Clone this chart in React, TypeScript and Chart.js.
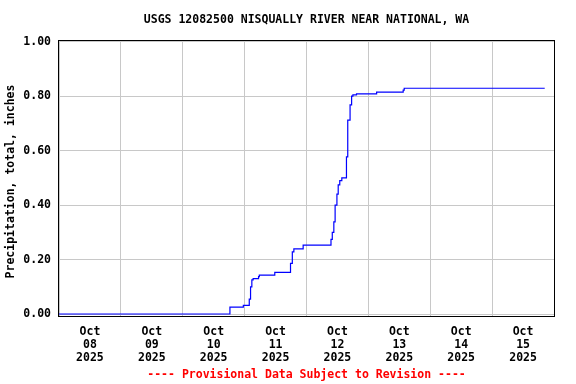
import React, { useEffect, useRef } from 'react';
import { Chart, registerables } from 'chart.js';

Chart.register(...registerables);

const TITLE = 'USGS 12082500 NISQUALLY RIVER NEAR NATIONAL, WA';
const Y_TITLE = 'Precipitation, total, inches';
const FOOTER = '---- Provisional Data Subject to Revision ----';
const MONTH = 'Oct';
const YEAR = '2025';
const DAY_LABELS = ['08', '09', '10', '11', '12', '13', '14', '15'];
const Y_TICKS = [0, 0.2, 0.4, 0.6, 0.8, 1.0];

// hours since Oct 08 2025 00:00
const HOURS = [
  0, 66.3, 71.5, 73.8, 74.3, 74.8, 75.3, 77.4, 77.7, 83.7, 89.8, 90.5, 91.1,
  94.7, 105.5, 106.0, 106.6, 107.1, 107.8, 108.3, 108.9, 109.7, 111.5, 112.0,
  112.9, 113.5, 114.0, 115.4, 123.2, 133.5, 133.9, 188.4,
];
// cumulative precipitation, inches
const PRECIP = [
  0, 0.025, 0.032, 0.055, 0.1, 0.125, 0.13, 0.137, 0.143, 0.153, 0.186, 0.228,
  0.239, 0.253, 0.274, 0.3, 0.338, 0.4, 0.44, 0.474, 0.49, 0.5, 0.577, 0.712,
  0.768, 0.8, 0.805, 0.808, 0.815, 0.822, 0.829, 0.829,
];

const FONT = '"DejaVu Sans Mono", monospace';

const decorPlugin = {
  id: 'decor',
  afterDraw(chart: any) {
    const { ctx, chartArea } = chart;
    const { left, right, top, bottom } = chartArea;
    ctx.save();
    ctx.strokeStyle = '#000';
    ctx.lineWidth = 1;
    ctx.strokeRect(Math.round(left) - 0.5, Math.round(top) + 0.5, Math.round(right - left) + 1, Math.round(bottom - top));
    const cx = (left + right) / 2;
    ctx.font = 'bold 11.5px ' + FONT;
    ctx.textAlign = 'center';
    ctx.textBaseline = 'middle';
    ctx.fillStyle = '#000';
    ctx.fillText(TITLE, cx, 20.5);
    ctx.fillStyle = '#ff0000';
    ctx.fillText(FOOTER, cx, 375);
    ctx.fillStyle = '#000';
    ctx.translate(11.5, 181.5);
    ctx.rotate(-Math.PI / 2);
    ctx.fillText(Y_TITLE, 0, 0);
    ctx.restore();
  },
};

export default function App() {
  const ref = useRef<HTMLCanvasElement | null>(null);
  useEffect(() => {
    document.body.style.margin = '0';
    const canvas = ref.current!;
    const data = HOURS.map((h, i) => ({ x: h, y: PRECIP[i] }));
    const chart = new Chart(canvas, {
      type: 'line',
      data: {
        datasets: [
          {
            data,
            borderColor: '#0000ff',
            borderWidth: 1.2,
            pointRadius: 0,
            stepped: true,
            fill: false,
          },
        ],
      },
      options: {
        animation: false,
        responsive: false,
        devicePixelRatio: 1,
        layout: { padding: { top: 40, right: 22, left: 0, bottom: 0 } },
        plugins: {
          legend: { display: false },
          title: { display: false },
          tooltip: { enabled: false },
        },
        scales: {
          x: {
            type: 'linear',
            min: 0,
            max: 192,
            afterBuildTicks: (scale: any) => {
              const t = [];
              for (let v = 0; v <= 192; v += 12) t.push({ value: v });
              scale.ticks = t;
            },
            afterFit: (scale: any) => {
              scale.height = 68;
            },
            border: { display: false },
            grid: {
              color: (c: any) =>
                c.tick && c.tick.value % 24 === 0 ? '#c8c8c8' : 'rgba(0,0,0,0)',
              drawTicks: false,
              lineWidth: 1,
            },
            ticks: {
              autoSkip: false,
              maxRotation: 0,
              minRotation: 0,
              padding: 10,
              color: '#000',
              font: { family: FONT, size: 11.5, weight: 'bold', lineHeight: 1.13 },
              callback: (v: any) => {
                const n = Number(v);
                if (n % 24 !== 12) return '';
                const d = DAY_LABELS[Math.floor(n / 24)];
                return [MONTH, d, YEAR];
              },
            },
          },
          y: {
            type: 'linear',
            min: -0.0073,
            max: 1.0062,
            afterBuildTicks: (scale: any) => {
              scale.ticks = Y_TICKS.map((v) => ({ value: v }));
            },
            afterFit: (scale: any) => {
              scale.width = 59;
            },
            border: { display: false },
            grid: { color: '#c8c8c8', drawTicks: false, lineWidth: 1 },
            ticks: {
              padding: 8,
              color: '#000',
              font: { family: FONT, size: 11.5, weight: 'bold' },
              callback: (v: any) => Number(v).toFixed(2),
            },
          },
        },
      },
      plugins: [decorPlugin],
    } as any);
    return () => chart.destroy();
  }, []);
  return (
    <div style={{ position: 'absolute', left: 0, top: 0, width: 576, height: 384, background: '#fff' }}>
      <canvas ref={ref} width={576} height={384} style={{ width: 576, height: 384 }} />
    </div>
  );
}
